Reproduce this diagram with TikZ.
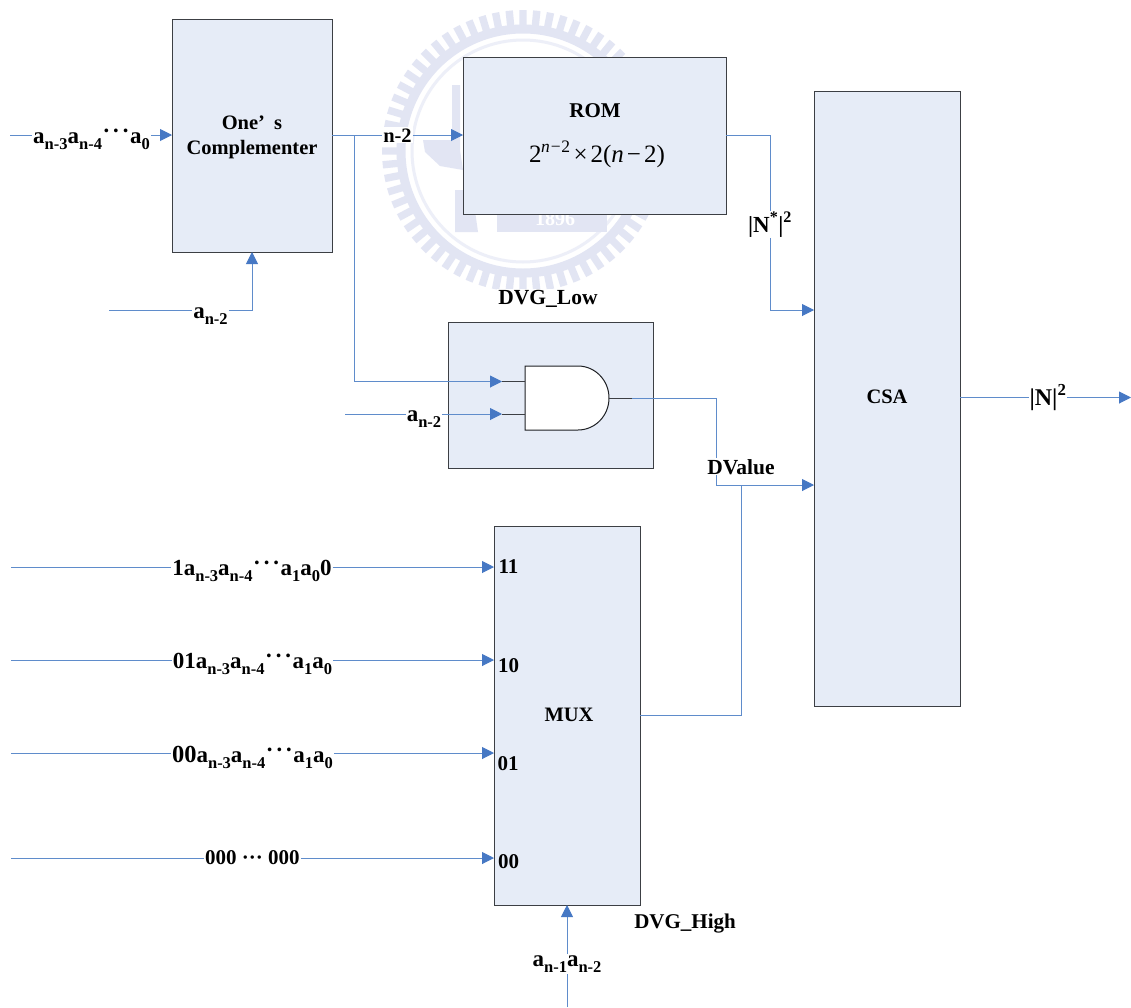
\documentclass[tikz,border=0pt]{standalone}
\usepackage{fontspec}
\setmainfont{Liberation Serif}
\usetikzlibrary{arrows.meta,calc}
\definecolor{wirec}{HTML}{5F8CCB}
\definecolor{tipc}{HTML}{4678C4}
\definecolor{boxf}{HTML}{E6ECF7}
\definecolor{boxd}{HTML}{3C3F44}
\definecolor{gatec}{HTML}{1E2024}
\definecolor{wmk}{HTML}{E2E5F3}
\definecolor{wmkl}{HTML}{EDEFF8}
\newcommand{\sbt}[1]{\raisebox{-0.3em}{\fontsize{16.5}{17}\selectfont #1}}
\newcommand{\dts}{\raisebox{0.2em}{\kern0.5pt·\kern2pt·\kern2pt·\kern0.5pt}}
\tikzset{
  blockbox/.style={draw=boxd,fill=boxf,line width=0.9pt,inner sep=0pt,outer sep=0pt},
  wire/.style={draw=wirec,line width=0.95pt},
  wirearrow/.style={wire,-{Triangle[length=12pt,width=12pt,color=tipc]}},
  stub/.style={draw=boxd,line width=1pt},
  lab/.style={font=\fontsize{20.5}{22}\selectfont\bfseries,inner sep=1pt,outer sep=0pt,anchor=base},
  labm/.style={lab,font=\fontsize{21}{22}\selectfont\bfseries},
  labbig/.style={lab,font=\fontsize{23}{24}\selectfont\bfseries},
  whitelab/.style={lab,fill=white},
  formula/.style={font=\fontsize{25}{27}\selectfont,inner sep=0pt,anchor=base},
  gatebody/.style={draw=gatec,fill=white,line width=1pt},
}
\begin{document}
\begin{tikzpicture}[x=1pt,y=-1pt]
\useasboundingbox (0,0) rectangle (1131,1007);
\fill[white] (0,0) rectangle (1131,1007);
% watermark
\foreach \a in {0,5.625,...,355}{
  \fill[wmk] ($(523,151)+(\a-1.7:122)$) -- ($(523,151)+(\a-1.5:141)$) -- ($(523,151)+(\a+1.5:141)$) -- ($(523,151)+(\a+1.7:122)$) -- cycle;
}
\draw[wmk,line width=9pt] (523,151) circle[radius=122pt];
\draw[wmkl,line width=3pt] (523,151) circle[radius=111pt];
\fill[wmk] (452,85) -- (460,85) -- (460,150) -- (463,170) -- (440,166) -- (425,152) -- (423,140) -- (452,140) -- cycle;
\fill[wmk] (455,190) -- (472,190) -- (478,232) -- (455,232) -- cycle;
\fill[wmk] (497,205) rectangle (607,232);
\node[font=\fontsize{20}{20}\selectfont\bfseries,text=white,inner sep=0pt] (wmkyear) at (555,219) {1896};

% blocks
\node[blockbox,minimum width=160pt,minimum height=233pt] (one) at (252,135.5) {};
\node[blockbox,minimum width=263pt,minimum height=157pt] (rom) at (594.5,135.5) {};
\node[blockbox,minimum width=146pt,minimum height=615pt] (csa) at (887,398.5) {};
\node[blockbox,minimum width=205pt,minimum height=146pt] (dvg) at (550.5,395) {};
\node[blockbox,minimum width=146pt,minimum height=379pt] (mux) at (567,715.5) {};

% AND gate
\node[minimum width=84pt,minimum height=64pt,inner sep=0pt,outer sep=0pt] (gate) at (567,398) {};
\draw[gatebody] (gate.north west) -- (578,366) arc[start angle=90,end angle=-90,x radius=31pt,y radius=32pt] -- (gate.south west) -- cycle;

% free ends
\coordinate (inA) at (10,135);
\coordinate (inB) at (109,310);
\coordinate (inC) at (345,414);
\coordinate (in11) at (11,567);
\coordinate (in10) at (11,660);
\coordinate (in01) at (11,753);
\coordinate (in00) at (11,858);
\coordinate (inS) at (567,1007);
\coordinate (out) at (1131,397.5);
\coordinate (branch) at (354,135);
\coordinate (stubA) at (502,381.5);
\coordinate (stubB) at (502,414);
\coordinate (stubO) at (632,398);
\coordinate (romout) at (770,135);
\coordinate (romin) at (770,310);
\coordinate (dvbendA) at (716,398);
\coordinate (dvbendB) at (716,485);
\coordinate (muxout) at (741,715);
\coordinate (muxup) at (741,485);

% labels
\node[lab] (tOne) at (252,129) {One’\hspace{0.45em}s};
\node[lab] (tComp) at (252,154) {Complementer};
\node[labm] (tRom) at (595,117) {ROM};
\node[formula] (tForm) at (597,162) {2\textsuperscript{\kern-0.5pt\itshape n\upshape\kern1pt−\kern0.5pt2}\kern3pt×\kern3pt2(\textit{n}\kern3pt−\kern3pt2)};
\node[lab] (tCsa) at (887,403) {CSA};
\node[lab] (tMux) at (569,721) {MUX};
\node[labbig] (lA) at (91.5,143) {a\sbt{n-3}a\sbt{n-4}\dts a\sbt{0}};
\node[labbig] (lB) at (210.5,318) {a\sbt{n-2}};
\node[whitelab] (lN) at (397.5,142) {n-2};
\node[whitelab,font=\fontsize{21.5}{22}\selectfont\bfseries] (lLow) at (548,304) {DVG\_Low};
\node[labbig] (lC) at (424,421) {a\sbt{n-2}};
\node[lab,font=\fontsize{21.5}{22}\selectfont\bfseries] (lDv) at (741,474) {DValue};
\node[lab,font=\fontsize{23}{24}\selectfont\bfseries] (lNs) at (770,232) {|N\textsuperscript{*}|\textsuperscript{2}};
\node[lab,font=\fontsize{24}{24}\selectfont\bfseries] (lNo) at (1048,405) {|N|\textsuperscript{2}};
\node[labbig] (l11) at (252,575) {1a\sbt{n-3}a\sbt{n-4}\dts a\sbt{1}a\sbt{0}0};
\node[labbig] (l10) at (252.5,668) {01a\sbt{n-3}a\sbt{n-4}\dts a\sbt{1}a\sbt{0}};
\node[labbig] (l01) at (252.5,762) {{\fontsize{24.5}{25}\selectfont 00}a\sbt{n-3}a\sbt{n-4}\dts a\sbt{1}a\sbt{0}};
\node[labm] (l00) at (252.5,864) {000 ··· 000};
\node[labm] (p11) at (508.5,573) {11};
\node[labm] (p10) at (508.5,672) {10};
\node[labm] (p01) at (508,770) {01};
\node[labm] (p00) at (508.5,868) {00};
\node[labm] (lHigh) at (685,928) {DVG\_High};
\node[labbig] (lS) at (567,966) {a\sbt{n-1}a\sbt{n-2}};

% connectors
\draw[wire] (inA) -- (inA -| lA.west);
\draw[wirearrow] (inA -| lA.east) -- (inA -| one.west);
\draw[wire] (inB) -- (inB -| lB.west);
\draw[wirearrow] (inB -| lB.east) -- (inB -| one.south) -- (one.south);
\draw[wire] (inA -| one.east) -- (inA -| lN.west);
\draw[wirearrow] (inA -| lN.east) -- (inA -| rom.west);
\draw[wirearrow] (branch) -- (branch |- stubA) -- (stubA);
\draw[wire] (inC) -- (inC -| lC.west);
\draw[wirearrow] (inC -| lC.east) -- (stubB);
\draw[stub] (stubA) -- (stubA -| gate.west);
\draw[stub] (stubB) -- (stubB -| gate.west);
\draw[stub] (609,398) -- (stubO);
\draw[wire] (stubO) -- (dvbendA) -- (dvbendA |- lDv.north);
\draw[wirearrow] (dvbendB |- lDv.south) -- (dvbendB) -- (dvbendB -| csa.west);
\draw[wire] (mux.east |- muxout) -- (muxout) -- (muxup);
\draw[wire] (rom.east |- romout) -- (romout) -- (romout |- lNs.north);
\draw[wirearrow] (romin |- lNs.south) -- (romin) -- (romin -| csa.west);
\draw[wire] (csa.east |- out) -- (out -| lNo.west);
\draw[wirearrow] (out -| lNo.east) -- (out);
\foreach \n/\c in {l11/in11,l10/in10,l01/in01,l00/in00}{
  \draw[wire] (\c) -- (\c -| \n.west);
  \draw[wirearrow] (\c -| \n.east) -- (\c -| mux.west);
}
\draw[wire] (inS) -- (inS |- lS.south);
\draw[wirearrow] (inS |- lS.north) -- (mux.south);
\end{tikzpicture}
\end{document}
